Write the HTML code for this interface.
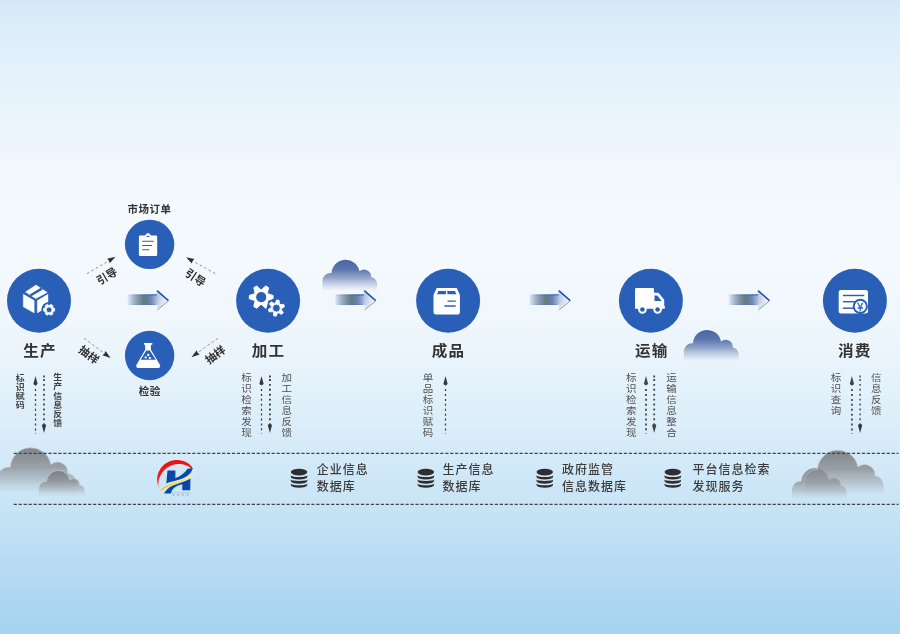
<!DOCTYPE html>
<html lang="zh-CN">
<head>
<meta charset="utf-8">
<title>标识解析流程</title>
<style>
html,body{margin:0;padding:0;}
html{background:#a3d3f0;}
body{width:900px;height:634px;overflow:hidden;font-family:"Liberation Sans","Noto Sans CJK SC",sans-serif;}
#stage{position:relative;width:900px;height:634px;overflow:hidden;
background:linear-gradient(to bottom,#d3e8f7 0px,#dceefa 30px,#e5f2fb 80px,#edf6fc 140px,#f3f9fd 200px,#f4f9fd 260px,#f0f7fd 320px,#e7f3fc 370px,#deeffa 410px,#d4eaf8 455px,#c8e4f6 505px,#b7dbf3 570px,#a3d3f0 634px);}
svg{display:block;position:absolute;left:0;top:0;will-change:transform;font-family:"Liberation Sans","Noto Sans CJK SC",sans-serif;}
</style>
</head>
<body>
<div id="stage">
<svg width="900" height="634" viewBox="0 0 900 634">
<defs>
<linearGradient id="gBlueCloud" x1="0" y1="0" x2="0" y2="1">
<stop offset="0" stop-color="#4966a3" stop-opacity="1"/>
<stop offset="0.3" stop-color="#526ea8" stop-opacity="0.94"/>
<stop offset="0.55" stop-color="#6d84b4" stop-opacity="0.72"/>
<stop offset="0.78" stop-color="#93a5c8" stop-opacity="0.36"/>
<stop offset="0.95" stop-color="#a9b8d4" stop-opacity="0"/>
</linearGradient>
<linearGradient id="gGrayCloud" x1="0" y1="0" x2="0" y2="1">
<stop offset="0" stop-color="#787c80" stop-opacity="0.92"/>
<stop offset="0.4" stop-color="#888c90" stop-opacity="0.78"/>
<stop offset="0.7" stop-color="#9a9fa4" stop-opacity="0.45"/>
<stop offset="0.95" stop-color="#b8bec4" stop-opacity="0"/>
</linearGradient>
<linearGradient id="gGrayEdge" x1="0" y1="0" x2="0" y2="1">
<stop offset="0" stop-color="#c4c8cc" stop-opacity="0.8"/>
<stop offset="0.6" stop-color="#d0d4d8" stop-opacity="0.5"/>
<stop offset="0.9" stop-color="#d0d4d8" stop-opacity="0"/>
</linearGradient>
<linearGradient id="gShaft" x1="0" y1="0" x2="1" y2="0">
<stop offset="0" stop-color="#c9d7ea" stop-opacity="0"/>
<stop offset="0.08" stop-color="#c6d4e8" stop-opacity="0.9"/>
<stop offset="0.22" stop-color="#a3b4c9"/>
<stop offset="0.40" stop-color="#7d92a5"/>
<stop offset="0.55" stop-color="#657b84"/>
<stop offset="0.68" stop-color="#617e9a"/>
<stop offset="0.8" stop-color="#6f8ab6"/>
<stop offset="0.92" stop-color="#96abd0"/>
<stop offset="1" stop-color="#aebfde"/>
</linearGradient>
<linearGradient id="gEdge" x1="0" y1="0" x2="1" y2="0">
<stop offset="0" stop-color="#2d58a6" stop-opacity="0"/>
<stop offset="0.2" stop-color="#2d58a6" stop-opacity="0.15"/>
<stop offset="0.55" stop-color="#2d58a6" stop-opacity="0.5"/>
<stop offset="1" stop-color="#2450ae" stop-opacity="0.95"/>
</linearGradient>
<linearGradient id="gEdgeB" x1="0" y1="0" x2="1" y2="0">
<stop offset="0" stop-color="#2d58a6" stop-opacity="0"/>
<stop offset="0.2" stop-color="#2d58a6" stop-opacity="0.15"/>
<stop offset="0.6" stop-color="#2d58a6" stop-opacity="0.5"/>
<stop offset="0.9" stop-color="#3a64b0" stop-opacity="0.5"/>
<stop offset="1" stop-color="#3a64b0" stop-opacity="0.2"/>
</linearGradient>
<linearGradient id="gHead" x1="0" y1="0" x2="1" y2="0">
<stop offset="0" stop-color="#aebfde"/>
<stop offset="0.35" stop-color="#cdd8ec"/>
<stop offset="0.75" stop-color="#eaf0f8"/>
<stop offset="1" stop-color="#f2f6fb"/>
</linearGradient>
<linearGradient id="gHeadV" x1="0" y1="0" x2="0" y2="1">
<stop offset="0" stop-color="#f0f6fc" stop-opacity="0.7"/>
<stop offset="0.25" stop-color="#f0f6fc" stop-opacity="0.05"/>
<stop offset="0.6" stop-color="#f0f6fc" stop-opacity="0.1"/>
<stop offset="1" stop-color="#f0f6fc" stop-opacity="0.9"/>
</linearGradient>
<path id="cloud" d="M0,33 L0,21.5 A8.2,8.2 0 0 1 9.12,13.35 A14.1,14.1 0 0 1 37.06,11.51 A7.2,7.2 0 0 1 48.79,17.56 A6.8,6.8 0 0 1 54.7,24.3 L54.7,33 Z"/>
<g id="barrow">
<rect x="0" y="294.5" width="30.2" height="10.3" fill="url(#gShaft)"/>
<rect x="0" y="294.3" width="30" height="1.1" fill="url(#gEdge)"/>
<rect x="0" y="304" width="29" height="1" fill="url(#gEdgeB)"/>
<path d="M29.8,290.3 L41.6,300.7 L30.4,309.8 L30.4,304.8 L29.8,304.8 L29.8,294.4 Z" fill="url(#gHead)"/>
<path d="M29.8,290.3 L41.6,300.7 L30.4,309.8 L30.4,304.8 L29.8,304.8 L29.8,294.4 Z" fill="url(#gHeadV)"/>
<path d="M30.4,309.8 L41.4,300.9" stroke="#4a5a7c" stroke-width="0.55" fill="none"/>
<path d="M29.9,290.6 L41.3,300.6" stroke="#1f4db0" stroke-width="1.5" fill="none"/>
</g>
<g id="db" fill="#2e2e2e">
<ellipse cx="8.25" cy="3.4" rx="8.25" ry="3.4"/>
<path d="M0,6.6 A8.25,1.7 0 0 0 16.5,6.6 L16.5,8.2 A8.25,2.7 0 0 1 0,8.2 Z"/>
<path d="M0,10.7 A8.25,1.7 0 0 0 16.5,10.7 L16.5,12.3 A8.25,2.7 0 0 1 0,12.3 Z"/>
<path d="M0,14.8 A8.25,1.7 0 0 0 16.5,14.8 L16.5,16.4 A8.25,2.7 0 0 1 0,16.4 Z"/>
</g>
</defs>
<use href="#cloud" transform="translate(322.4,259.7)" fill="url(#gBlueCloud)"/>
<use href="#cloud" transform="translate(683.9,329.9)" fill="url(#gBlueCloud)"/>
<g transform="translate(-2.90,447.80) scale(1.450)"><use href="#cloud" fill="url(#gGrayCloud)"/><use href="#cloud" fill="none" stroke="url(#gGrayEdge)" stroke-width="0.62"/></g>
<g transform="translate(38.90,470.40) scale(0.835)"><use href="#cloud" fill="url(#gGrayCloud)"/><use href="#cloud" fill="none" stroke="url(#gGrayEdge)" stroke-width="1.08"/></g>
<g transform="translate(792.00,468.00) scale(1.000)"><use href="#cloud" fill="url(#gGrayCloud)"/><use href="#cloud" fill="none" stroke="url(#gGrayEdge)" stroke-width="0.90"/></g>
<g transform="translate(804.20,450.30) scale(1.450)"><use href="#cloud" fill="url(#gGrayCloud)"/><use href="#cloud" fill="none" stroke="url(#gGrayEdge)" stroke-width="0.62"/></g>
<line x1="13.7" y1="453.3" x2="898.5" y2="453.3" stroke="#444" stroke-width="1.15" stroke-dasharray="3.2 1.76"/>
<line x1="13.7" y1="504.4" x2="898.5" y2="504.4" stroke="#444" stroke-width="1.15" stroke-dasharray="3.2 1.76"/>
<use href="#barrow" x="127.10" y="0"/>
<use href="#barrow" x="334.40" y="0"/>
<use href="#barrow" x="528.90" y="0"/>
<use href="#barrow" x="728.10" y="0"/>
<circle cx="39" cy="300.8" r="32" fill="#2a5fb8"/>
<circle cx="149.6" cy="244.4" r="24.7" fill="#2a5fb8"/>
<circle cx="149.6" cy="355.5" r="24.7" fill="#2a5fb8"/>
<circle cx="268.1" cy="300.8" r="32" fill="#2a5fb8"/>
<circle cx="448.1" cy="300.8" r="32" fill="#2a5fb8"/>
<circle cx="650.9" cy="300.8" r="32" fill="#2a5fb8"/>
<circle cx="854.9" cy="300.8" r="32" fill="#2a5fb8"/>
<g id="ic-box">
<path d="M25.5,292 L36,285.1 L47.2,292.4 L35.7,298.6 Z" fill="#fff" stroke="#fff" stroke-width="0.5" stroke-linejoin="round"/>
<path d="M30.35,295.5 L41.8,288.65" stroke="#2a5fb8" stroke-width="2.4"/>
<path d="M23.3,294.2 L34.2,300.6 L34.2,312.9 L23.3,306.8 Z" fill="#fff" stroke="#fff" stroke-width="0.4" stroke-linejoin="round"/>
<path d="M37.3,300.6 L48,294.2 L48,306.5 L37.3,312.9 Z" fill="#fff" stroke="#fff" stroke-width="0.4" stroke-linejoin="round"/>
</g>
<circle cx="49.1" cy="309.8" r="7.7" fill="#2a5fb8"/>
<path d="M53.37,308.08 L54.65,308.52 L54.65,311.08 L53.37,311.52 L53.08,312.10 L52.72,312.63 L52.99,313.97 L50.77,315.25 L49.74,314.36 L49.10,314.40 L48.46,314.36 L47.43,315.25 L45.21,313.97 L45.48,312.63 L45.12,312.10 L44.83,311.52 L43.55,311.08 L43.55,308.52 L44.83,308.08 L45.12,307.50 L45.48,306.97 L45.21,305.63 L47.43,304.35 L48.46,305.24 L49.10,305.20 L49.74,305.24 L50.77,304.35 L52.99,305.63 L52.72,306.97 L53.08,307.50 Z M46.25,309.80 a2.85,2.85 0 1 0 5.70,0 a2.85,2.85 0 1 0 -5.70,0 Z" fill="#fff" fill-rule="evenodd" stroke="#fff" stroke-width="0.7" stroke-linejoin="round"/>
<g id="ic-clip">
<path d="M140.1,235.4 H145 L146.5,233.7 Q148.05,232.5 149.6,233.7 L151.1,235.4 H156 a1.2,1.2 0 0 1 1.2,1.2 v18.1 a1.2,1.2 0 0 1 -1.2,1.2 h-15.9 a1.2,1.2 0 0 1 -1.2,-1.2 v-18.1 a1.2,1.2 0 0 1 1.2,-1.2 Z" fill="#fff"/>
<rect x="146.4" y="236" width="3.3" height="0.9" rx="0.45" fill="#2a5fb8"/>
<g stroke="#2a5fb8" stroke-width="1.05" stroke-linecap="round">
<line x1="142.6" y1="241.3" x2="153.4" y2="241.3"/>
<line x1="142.6" y1="245.5" x2="151.6" y2="245.5"/>
<line x1="142.6" y1="249.8" x2="148.8" y2="249.8"/>
</g>
</g>
<g id="ic-flask">
<path d="M143.9,343.1 h8.4 v1.7 h-1.4 v4.9 L159.9,364.8 a2,2 0 0 1 -1.8,3.1 H138.3 a2,2 0 0 1 -1.8,-3.1 L145.2,349.7 v-4.9 h-1.3 Z" fill="#fff"/>
<path d="M146.3,350.6 h3.6 l5.8,9.1 h-15.1 Z" fill="#2a5fb8"/>
<circle cx="148.2" cy="355" r="1.15" fill="#fff"/>
<circle cx="145.7" cy="357.4" r="1.1" fill="#fff"/>
<circle cx="149.9" cy="358" r="1.15" fill="#fff"/>
</g>
<path d="M268.09,293.89 L273.08,295.43 L273.08,298.77 L268.09,300.31 L267.78,300.90 L267.43,301.46 L268.59,306.56 L265.70,308.23 L261.86,304.67 L261.20,304.70 L260.54,304.67 L256.70,308.23 L253.81,306.56 L254.97,301.46 L254.62,300.90 L254.31,300.31 L249.32,298.77 L249.32,295.43 L254.31,293.89 L254.62,293.30 L254.97,292.74 L253.81,287.64 L256.70,285.97 L260.54,289.53 L261.20,289.50 L261.86,289.53 L265.70,285.97 L268.59,287.64 L267.43,292.74 L267.78,293.30 Z M255.60,297.10 a5.60,5.60 0 1 0 11.20,0 a5.60,5.60 0 1 0 -11.20,0 Z" fill="#fff" fill-rule="evenodd" stroke="#fff" stroke-width="1" stroke-linejoin="round"/>
<circle cx="276.4" cy="308.1" r="9.8" fill="#2a5fb8"/>
<path d="M280.09,304.58 L283.66,304.29 L284.48,306.72 L281.47,308.66 L281.40,309.10 L281.30,309.53 L283.33,312.48 L281.64,314.41 L278.45,312.77 L278.04,312.93 L277.61,313.05 L276.07,316.29 L273.56,315.79 L273.38,312.21 L273.03,311.93 L272.71,311.62 L269.14,311.91 L268.32,309.48 L271.33,307.54 L271.40,307.10 L271.50,306.67 L269.47,303.72 L271.16,301.79 L274.35,303.43 L274.76,303.27 L275.19,303.15 L276.73,299.91 L279.24,300.41 L279.42,303.99 L279.77,304.27 Z M272.50,308.10 a3.90,3.90 0 1 0 7.80,0 a3.90,3.90 0 1 0 -7.80,0 Z" fill="#fff" fill-rule="evenodd" stroke="#fff" stroke-width="0.8" stroke-linejoin="round"/>
<g id="ic-pack">
<path d="M437,288.7 h19.4 l2.9,6.2 v17.3 a1.8,1.8 0 0 1 -1.8,1.8 h-21.6 a1.8,1.8 0 0 1 -1.8,-1.8 v-17.3 Z" fill="#fff" stroke="#fff" stroke-width="1.2" stroke-linejoin="round"/>
<path d="M438.4,291 h7.6 v3.3 h-9.1 Z" fill="#2a5fb8"/>
<path d="M447.3,291 h7.6 l1.5,3.3 h-9.1 Z" fill="#2a5fb8"/>
<rect x="447.4" y="300.4" width="8.5" height="1.35" rx="0.6" fill="#2a5fb8"/>
<rect x="444.2" y="305.3" width="11.7" height="1.35" rx="0.6" fill="#2a5fb8"/>
</g>
<g id="ic-truck">
<path d="M636.4,288.1 h16.2 a1.4,1.4 0 0 1 1.4,1.4 v19.3 h-19 v-19.3 a1.4,1.4 0 0 1 1.4,-1.4 Z" fill="#fff"/>
<path d="M654,292.7 h3.6 a1.6,1.6 0 0 1 1.3,0.6 l4.9,6 a1.6,1.6 0 0 1 0.4,1 v5.4 h0.6 v3.1 h-10.8 Z" fill="#fff"/>
<path d="M654.5,295.5 h2.7 l4.5,5.6 h-7.2 Z" fill="#2a5fb8"/>
<circle cx="642.4" cy="309.5" r="4.3" fill="#fff"/>
<circle cx="657.6" cy="309.5" r="4.3" fill="#fff"/>
<circle cx="642.4" cy="309.5" r="2.3" fill="#2a5fb8"/>
<circle cx="657.6" cy="309.5" r="2.3" fill="#2a5fb8"/>
</g>
<g id="ic-card">
<rect x="838.7" y="290" width="29.3" height="23.6" rx="2.3" fill="#fff"/>
<g stroke="#2a5fb8" stroke-width="1.45">
<line x1="842.9" y1="295.5" x2="864.3" y2="295.5"/>
<line x1="842.9" y1="301.7" x2="856" y2="301.7"/>
<line x1="842.9" y1="308.2" x2="854" y2="308.2"/>
</g>
<circle cx="860.3" cy="306.4" r="7.6" fill="#2a5fb8"/>
<circle cx="860.3" cy="306.4" r="5.6" fill="#fff"/>
<text x="860.3" y="310.7" font-size="10" font-weight="400" fill="#2a5fb8" stroke="#2a5fb8" stroke-width="0.35" text-anchor="middle">¥</text>
</g>
<text transform="translate(40.1,356.4) scale(1,0.93)" font-size="15.6" font-weight="700" fill="#333" text-anchor="middle" letter-spacing="1.2">生产</text>
<text transform="translate(268.6,356.4) scale(1,0.93)" font-size="15.6" font-weight="700" fill="#333" text-anchor="middle" letter-spacing="1.2">加工</text>
<text transform="translate(448.6,356.4) scale(1,0.93)" font-size="15.6" font-weight="700" fill="#333" text-anchor="middle" letter-spacing="1.2">成品</text>
<text transform="translate(651.8000000000001,356.4) scale(1,0.93)" font-size="15.6" font-weight="700" fill="#333" text-anchor="middle" letter-spacing="1.2">运输</text>
<text transform="translate(854.8000000000001,356.4) scale(1,0.93)" font-size="15.6" font-weight="700" fill="#333" text-anchor="middle" letter-spacing="1.2">消费</text>
<text x="149.5" y="212.9" font-size="10.5" font-weight="700" fill="#333" text-anchor="middle" letter-spacing="0.45">市场订单</text>
<text x="149.8" y="394.9" font-size="10.5" font-weight="700" fill="#333" text-anchor="middle" letter-spacing="0.45">检验</text>
<line x1="87.00" y1="273.70" x2="108.45" y2="260.98" stroke="#777" stroke-width="0.9" stroke-dasharray="2.6 2.5" opacity="0.9"/><path d="M115.50,256.80 L109.77,263.22 L108.96,260.68 L107.12,258.75 Z" fill="#303030"/>
<line x1="215.30" y1="273.70" x2="193.16" y2="261.31" stroke="#777" stroke-width="0.9" stroke-dasharray="2.6 2.5" opacity="0.9"/><path d="M186.00,257.30 L194.43,259.04 L192.63,261.01 L191.89,263.57 Z" fill="#303030"/>
<line x1="84.20" y1="338.30" x2="104.03" y2="353.10" stroke="#777" stroke-width="0.9" stroke-dasharray="2.6 2.5" opacity="0.9"/><path d="M110.60,358.00 L102.47,355.18 L104.51,353.45 L105.58,351.01 Z" fill="#303030"/>
<line x1="217.90" y1="338.30" x2="198.17" y2="352.43" stroke="#777" stroke-width="0.9" stroke-dasharray="2.6 2.5" opacity="0.9"/><path d="M191.50,357.20 L196.65,350.31 L197.68,352.78 L199.68,354.54 Z" fill="#303030"/>
<text transform="translate(106.90,276.20) rotate(-31)" font-size="11" font-weight="700" fill="#303030" text-anchor="middle" y="3.96">引导</text>
<text transform="translate(195.40,277.60) rotate(34)" font-size="11" font-weight="700" fill="#303030" text-anchor="middle" y="3.96">引导</text>
<text transform="translate(88.90,354.80) rotate(37)" font-size="11" font-weight="700" fill="#303030" text-anchor="middle" y="3.96">抽样</text>
<text transform="translate(215.40,354.80) rotate(-37)" font-size="11" font-weight="700" fill="#303030" text-anchor="middle" y="3.96">抽样</text>
<g transform="scale(1.05,0.95)"><text font-size="8.5" font-weight="700" fill="#3e3e3e" text-anchor="middle"><tspan x="19.24" y="400.63">标</tspan><tspan x="19.24" y="410.26">识</tspan><tspan x="19.24" y="419.89">赋</tspan><tspan x="19.24" y="429.53">码</tspan></text></g>
<g transform="scale(1.05,0.95)"><text font-size="8.5" font-weight="700" fill="#3e3e3e" text-anchor="middle"><tspan x="55.05" y="400.32">生</tspan><tspan x="55.05" y="409.92">产</tspan><tspan x="55.05" y="419.52">信</tspan><tspan x="55.05" y="429.12">息</tspan><tspan x="55.05" y="438.72">反</tspan><tspan x="55.05" y="448.32">馈</tspan></text></g>
<line x1="35.50" y1="389.06" x2="35.50" y2="433.70" stroke="#383838" stroke-width="1.2" stroke-dasharray="2 2.92"/><path d="M35.50,376.10 L37.65,384.10 L35.50,385.70 L33.35,384.10 Z" fill="#383838"/>
<line x1="44.00" y1="379.00" x2="44.00" y2="423.80" stroke="#383838" stroke-width="1.6" stroke-dasharray="1.9 3.02"/><rect x="43.20" y="375.50" width="1.6" height="1.9" fill="#383838"/><path d="M44.00,433.10 L46.15,425.10 L44.00,423.50 L41.85,425.10 Z" fill="#383838"/>
<g transform="scale(1.05,0.95)"><text font-size="10" font-weight="400" fill="#505050" text-anchor="middle"><tspan x="234.76" y="401.05">标</tspan><tspan x="234.76" y="412.69">识</tspan><tspan x="234.76" y="424.34">检</tspan><tspan x="234.76" y="435.98">索</tspan><tspan x="234.76" y="447.62">发</tspan><tspan x="234.76" y="459.26">现</tspan></text></g>
<g transform="scale(1.05,0.95)"><text font-size="10" font-weight="400" fill="#505050" text-anchor="middle"><tspan x="273.14" y="401.05">加</tspan><tspan x="273.14" y="412.69">工</tspan><tspan x="273.14" y="424.34">信</tspan><tspan x="273.14" y="435.98">息</tspan><tspan x="273.14" y="447.62">反</tspan><tspan x="273.14" y="459.26">馈</tspan></text></g>
<line x1="261.50" y1="388.96" x2="261.50" y2="433.70" stroke="#383838" stroke-width="1.2" stroke-dasharray="2 2.92"/><path d="M261.50,376.00 L263.65,384.00 L261.50,385.60 L259.35,384.00 Z" fill="#383838"/>
<line x1="269.90" y1="379.00" x2="269.90" y2="423.80" stroke="#383838" stroke-width="1.8" stroke-dasharray="1.9 3.02"/><rect x="269.00" y="375.50" width="1.8" height="1.9" fill="#383838"/><path d="M269.90,433.10 L272.05,425.10 L269.90,423.50 L267.75,425.10 Z" fill="#383838"/>
<g transform="scale(1.05,0.95)"><text font-size="10" font-weight="400" fill="#505050" text-anchor="middle"><tspan x="407.62" y="401.05">单</tspan><tspan x="407.62" y="412.69">品</tspan><tspan x="407.62" y="424.34">标</tspan><tspan x="407.62" y="435.98">识</tspan><tspan x="407.62" y="447.62">赋</tspan><tspan x="407.62" y="459.26">码</tspan></text></g>
<line x1="445.50" y1="389.06" x2="445.50" y2="433.70" stroke="#383838" stroke-width="1.2" stroke-dasharray="2 2.92"/><path d="M445.50,376.10 L447.65,384.10 L445.50,385.70 L443.35,384.10 Z" fill="#383838"/>
<g transform="scale(1.05,0.95)"><text font-size="10" font-weight="400" fill="#505050" text-anchor="middle"><tspan x="601.24" y="401.05">标</tspan><tspan x="601.24" y="412.69">识</tspan><tspan x="601.24" y="424.34">检</tspan><tspan x="601.24" y="435.98">索</tspan><tspan x="601.24" y="447.62">发</tspan><tspan x="601.24" y="459.26">现</tspan></text></g>
<g transform="scale(1.05,0.95)"><text font-size="10" font-weight="400" fill="#505050" text-anchor="middle"><tspan x="639.43" y="401.05">运</tspan><tspan x="639.43" y="412.69">输</tspan><tspan x="639.43" y="424.34">信</tspan><tspan x="639.43" y="435.98">息</tspan><tspan x="639.43" y="447.62">整</tspan><tspan x="639.43" y="459.26">合</tspan></text></g>
<line x1="646.00" y1="388.96" x2="646.00" y2="433.70" stroke="#444" stroke-width="1.8" stroke-dasharray="2 2.92"/><path d="M646.00,376.00 L648.15,384.00 L646.00,385.60 L643.85,384.00 Z" fill="#444"/>
<line x1="654.20" y1="379.00" x2="654.20" y2="423.80" stroke="#444" stroke-width="1.8" stroke-dasharray="1.9 3.02"/><rect x="653.30" y="375.50" width="1.8" height="1.9" fill="#444"/><path d="M654.20,433.10 L656.35,425.10 L654.20,423.50 L652.05,425.10 Z" fill="#444"/>
<g transform="scale(1.05,0.95)"><text font-size="10" font-weight="400" fill="#505050" text-anchor="middle"><tspan x="796.19" y="401.05">标</tspan><tspan x="796.19" y="412.69">识</tspan><tspan x="796.19" y="424.34">查</tspan><tspan x="796.19" y="435.98">询</tspan></text></g>
<g transform="scale(1.05,0.95)"><text font-size="10" font-weight="400" fill="#505050" text-anchor="middle"><tspan x="834.57" y="401.05">信</tspan><tspan x="834.57" y="412.69">息</tspan><tspan x="834.57" y="424.34">反</tspan><tspan x="834.57" y="435.98">馈</tspan></text></g>
<line x1="851.90" y1="389.06" x2="851.90" y2="433.70" stroke="#444" stroke-width="1.7" stroke-dasharray="2 2.92"/><path d="M851.90,376.10 L854.05,384.10 L851.90,385.70 L849.75,384.10 Z" fill="#444"/>
<line x1="860.10" y1="379.00" x2="860.10" y2="423.80" stroke="#383838" stroke-width="1.3" stroke-dasharray="1.9 3.02"/><rect x="859.45" y="375.50" width="1.3" height="1.9" fill="#383838"/><path d="M860.10,433.10 L862.25,425.10 L860.10,423.50 L857.95,425.10 Z" fill="#383838"/>
<g id="logo">
<defs>
<linearGradient id="gRed" gradientUnits="userSpaceOnUse" x1="0" y1="460" x2="0" y2="489"><stop offset="0" stop-color="#f20d12"/><stop offset="0.55" stop-color="#f21a14"/><stop offset="0.8" stop-color="#f4302a" stop-opacity="0.75"/><stop offset="1" stop-color="#f4503a" stop-opacity="0.1"/></linearGradient>
<linearGradient id="gYel" gradientUnits="userSpaceOnUse" x1="159" y1="491" x2="193" y2="473"><stop offset="0" stop-color="#f08a24"/><stop offset="0.22" stop-color="#fbc312"/><stop offset="0.45" stop-color="#ffe100"/><stop offset="1" stop-color="#fff230"/></linearGradient>
</defs>
<path d="M158.98,488.67 L158.07,486.44 L157.43,484.12 L157.08,481.74 L157.01,479.33 L157.24,476.93 L157.75,474.58 L158.54,472.30 L159.60,470.14 L160.91,468.12 L162.45,466.27 L164.21,464.62 L166.15,463.20 L168.25,462.02 L170.47,461.09 L172.79,460.45 L175.18,460.08 L177.58,460.01 L179.98,460.22 L182.34,460.73 L184.62,461.51 L186.78,462.56 L188.81,463.86 L190.66,465.40 L192.32,467.14 L191.71,468.64 L190.03,467.39 L188.23,466.32 L186.33,465.45 L184.34,464.77 L182.30,464.30 L180.22,464.05 L178.13,464.01 L176.04,464.19 L173.99,464.58 L171.98,465.18 L170.05,465.98 L168.21,466.98 L166.48,468.17 L164.88,469.52 L163.44,471.03 L162.15,472.69 L161.04,474.46 L160.12,476.34 L159.40,478.31 L158.89,480.34 L158.59,482.41 L158.50,484.50 L158.63,486.59 L158.97,488.66 Z" fill="url(#gRed)"/>
<path d="M167.5,470.4 L175.4,470.4 L175.4,477.9 C180.6,476.2 184.8,473 187.5,468.7 L192.9,468 L191.8,470.8 C190.4,473.6 188.4,475.4 185.6,476.9 C183.2,478.2 180.6,479.1 178,479.9 C175.4,480.6 173.2,481.1 171,481.8 C169.2,482.3 167.6,482.8 166.3,483.4 Z" fill="#0b46aa"/>
<path d="M164,493.5 L170.9,493.5 C171.4,491.2 172.4,489.5 173.8,488.2 C175,487.1 176.4,486.3 178,485.6 C179.4,485 180.8,484.6 182.3,484.2 L182.3,490.3 L190.2,490.3 L190.5,478.6 C189.2,479.3 188,479.9 186.6,480.4 C184.4,481.3 182,482.2 179.7,483 C177.2,483.8 175,484.6 172.8,485.6 C170.8,486.5 169,487.6 167.5,489 C166,490.4 164.9,491.8 164,493.5 Z" fill="#0b46aa"/>
<path d="M158.6,492 C160,490.2 161.4,488.9 163,487.7 C165.2,486.1 167.4,485 170,483.9 C172.6,482.8 175.2,482 178,481.1 C181,480.1 183.6,479.2 186,477.9 C189.2,476.2 191.6,474.4 193.9,472 C192.4,475 190,477.2 186.8,479 C184.2,480.4 181.4,481.4 178.4,482.4 C175.6,483.3 173.2,484.1 170.8,485.2 C168.4,486.3 166.2,487.4 164,488.8 C162.2,489.9 160.4,490.9 158.6,492 Z" fill="url(#gYel)" stroke="#e6f0fa" stroke-width="1.1" paint-order="stroke" stroke-opacity="0.9"/>
<rect x="172" y="492.1" width="18" height="0.45" fill="#7a8694" opacity="0.45"/>
<g fill="#70767f" opacity="0.32"><rect x="172.3" y="493.5" width="2.4" height="2.2"/><rect x="177" y="493.5" width="2.4" height="2.2"/><rect x="181.7" y="493.5" width="2.4" height="2.2"/><rect x="186.4" y="493.5" width="2.4" height="2.2"/></g>
</g>
<use href="#db" x="290.80" y="468.70"/>
<text font-size="12" font-weight="500" fill="#3c3c3c" letter-spacing="1"><tspan x="316.80" y="474.3">企业信息</tspan><tspan x="316.80" y="490.8">数据库</tspan></text>
<use href="#db" x="417.60" y="468.70"/>
<text font-size="12" font-weight="500" fill="#3c3c3c" letter-spacing="1"><tspan x="442.60" y="474.3">生产信息</tspan><tspan x="442.60" y="490.8">数据库</tspan></text>
<use href="#db" x="536.50" y="468.70"/>
<text font-size="12" font-weight="500" fill="#3c3c3c" letter-spacing="1"><tspan x="562.00" y="474.3">政府监管</tspan><tspan x="562.00" y="490.8">信息数据库</tspan></text>
<use href="#db" x="664.50" y="468.70"/>
<text font-size="12" font-weight="500" fill="#3c3c3c" letter-spacing="1"><tspan x="692.40" y="474.3">平台信息检索</tspan><tspan x="692.40" y="490.8">发现服务</tspan></text>
</svg>
</div>
</body>
</html>
